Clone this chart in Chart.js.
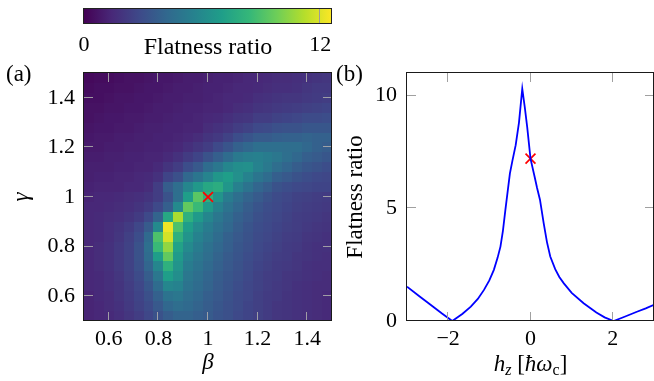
<!DOCTYPE html>
<html><head><meta charset="utf-8">
<script src="https://cdn.jsdelivr.net/npm/chart.js@4.4.1/dist/chart.umd.min.js"></script>
<style>
html,body{margin:0;padding:0;background:#fff;}
#wrap{position:relative;width:654px;height:381px;overflow:hidden;background:#fff;}
#wrap canvas{position:absolute;left:0;top:0;}
</style></head><body>
<div id="wrap">
<canvas id="cb" width="654" height="381"></canvas>
<canvas id="hm" width="654" height="381"></canvas>
<canvas id="ln" width="654" height="381"></canvas>
</div>
<script>
// ---------------- data ----------------
const betaValues = [0.52,0.56,0.60,0.64,0.68,0.72,0.76,0.80,0.84,0.88,0.92,0.96,1.00,1.04,1.08,1.12,1.16,1.20,1.24,1.28,1.32,1.36,1.40,1.44,1.48];
const gammaValues = [1.48,1.44,1.40,1.36,1.32,1.28,1.24,1.20,1.16,1.12,1.08,1.04,1.00,0.96,0.92,0.88,0.84,0.80,0.76,0.72,0.68,0.64,0.60,0.56,0.52];
const flatnessGrid = [
[0.3,0.4,0.4,0.5,0.6,0.6,0.7,0.8,0.8,0.9,1.0,1.0,1.1,1.2,1.2,1.3,1.4,1.4,1.5,1.6,1.6,1.7,1.8,1.9,2.0],
[0.4,0.5,0.5,0.6,0.6,0.7,0.8,0.8,0.9,1.0,1.0,1.1,1.2,1.2,1.3,1.4,1.4,1.5,1.6,1.7,1.7,1.8,2.0,2.1,2.1],
[0.5,0.5,0.6,0.7,0.7,0.8,0.8,0.9,1.0,1.0,1.1,1.1,1.2,1.3,1.4,1.4,1.5,1.7,1.8,1.9,2.0,2.0,2.1,2.2,2.3],
[0.6,0.6,0.7,0.7,0.8,0.8,0.9,1.0,1.0,1.1,1.2,1.2,1.3,1.3,1.4,1.6,1.7,1.9,2.0,2.1,2.2,2.3,2.4,2.5,2.6],
[0.6,0.7,0.8,0.8,0.9,0.9,1.0,1.0,1.1,1.2,1.2,1.3,1.4,1.5,1.7,1.9,2.0,2.3,2.3,2.5,2.6,2.7,2.9,2.9,3.0],
[0.7,0.8,0.8,0.9,0.9,1.0,1.1,1.1,1.2,1.2,1.3,1.3,1.6,1.8,2.0,2.3,2.5,2.8,2.9,3.1,3.2,3.2,3.4,3.4,3.4],
[0.8,0.9,0.9,1.0,1.0,1.1,1.1,1.2,1.2,1.3,1.4,1.6,1.9,2.1,2.5,3.0,3.3,3.6,3.6,3.8,3.9,3.9,4.0,3.9,3.9],
[0.9,0.9,1.0,1.0,1.1,1.1,1.2,1.2,1.3,1.4,1.7,2.0,2.3,2.8,3.3,3.9,4.2,4.6,4.6,4.6,4.5,4.5,4.2,3.9,3.7],
[1.0,1.0,1.1,1.1,1.2,1.2,1.3,1.3,1.5,1.8,2.2,2.6,3.2,3.8,4.4,5.1,5.4,5.5,5.3,5.0,4.6,4.2,3.8,3.6,3.4],
[1.1,1.1,1.1,1.2,1.2,1.3,1.3,1.5,1.9,2.3,3.0,3.5,4.4,5.0,5.8,6.2,6.3,5.6,5.1,4.5,4.1,3.7,3.4,3.2,3.0],
[1.1,1.2,1.2,1.3,1.3,1.4,1.5,1.8,2.6,3.1,4.2,4.9,5.7,6.6,7.0,6.3,5.6,4.9,4.4,3.8,3.5,3.2,3.0,2.8,2.7],
[1.2,1.3,1.3,1.3,1.4,1.4,1.6,2.3,3.7,4.5,5.8,6.7,7.5,7.8,6.6,5.5,4.8,4.1,3.7,3.2,3.0,2.8,2.7,2.6,2.6],
[1.3,1.4,1.4,1.5,1.6,1.7,1.9,2.3,3.2,4.6,7.0,9.3,8.0,6.5,5.3,4.6,4.0,3.6,3.2,2.9,2.7,2.5,2.4,2.3,2.2],
[1.4,1.4,1.5,1.6,1.7,1.9,2.2,2.8,3.8,6.0,9.5,8.5,6.8,5.6,4.8,4.2,3.7,3.3,3.0,2.8,2.6,2.4,2.3,2.2,2.1],
[1.4,1.5,1.6,1.7,1.9,2.2,2.8,4.0,7.5,11.0,8.0,6.8,5.8,5.0,4.4,3.9,3.5,3.1,2.9,2.7,2.5,2.3,2.2,2.1,2.0],
[1.4,1.5,1.7,1.9,2.2,2.7,3.6,6.0,12.3,9.0,7.0,6.0,5.3,4.7,4.2,3.7,3.3,3.0,2.8,2.6,2.4,2.3,2.1,2.0,1.9],
[1.4,1.5,1.7,2.0,2.4,3.0,4.3,9.0,11.8,8.0,6.5,5.6,5.0,4.4,3.9,3.5,3.2,2.9,2.7,2.5,2.3,2.2,2.0,1.9,1.8],
[1.4,1.6,1.8,2.1,2.5,3.2,4.6,8.5,10.5,7.2,6.0,5.3,4.7,4.2,3.8,3.4,3.1,2.8,2.6,2.4,2.2,2.1,1.9,1.8,1.8],
[1.4,1.6,1.8,2.1,2.5,3.2,4.4,7.0,9.5,6.8,5.6,5.0,4.5,4.0,3.6,3.3,3.0,2.7,2.5,2.3,2.2,2.0,1.9,1.8,1.7],
[1.4,1.6,1.8,2.1,2.5,3.1,4.1,5.8,8.0,6.5,5.3,4.8,4.3,3.9,3.5,3.2,2.9,2.6,2.4,2.2,2.1,2.0,1.8,1.7,1.7],
[1.4,1.5,1.7,2.0,2.4,2.9,3.7,5.0,7.0,6.2,5.0,4.6,4.1,3.7,3.4,3.1,2.8,2.5,2.3,2.2,2.0,1.9,1.8,1.7,1.6],
[1.4,1.5,1.7,1.9,2.3,2.7,3.4,4.4,5.8,5.6,4.8,4.4,4.0,3.6,3.3,3.0,2.7,2.5,2.3,2.1,2.0,1.8,1.7,1.6,1.6],
[1.3,1.5,1.6,1.9,2.2,2.6,3.1,3.9,4.8,5.0,4.5,4.2,3.8,3.5,3.2,2.9,2.7,2.4,2.2,2.1,1.9,1.8,1.7,1.6,1.5],
[1.3,1.4,1.6,1.8,2.1,2.5,2.9,3.5,4.2,4.5,4.3,4.0,3.7,3.4,3.1,2.9,2.6,2.4,2.2,2.0,1.9,1.8,1.7,1.6,1.5],
[1.3,1.4,1.5,1.7,2.0,2.3,2.7,3.2,3.7,4.0,4.0,3.8,3.6,3.3,3.1,2.8,2.6,2.4,2.2,2.0,1.9,1.8,1.7,1.6,1.5]
];
const betaTicks = [0.6, 0.8, 1, 1.2, 1.4];
const gammaTicks = [0.6, 0.8, 1, 1.2, 1.4];
const markerBeta = [1];
const markerGamma = [1];
const colorbarTicks = [0, 12];
const colorbarMax = 12.6;

const hzValues = [-3.0,-2.7,-2.42,-2.15,-1.9,-1.65,-1.45,-1.28,-1.13,-1.0,-0.89,-0.8,-0.73,-0.67,-0.61,-0.55,-0.5,-0.44,-0.36,-0.28,-0.2,-0.14,-0.08,0.0,0.1,0.16,0.23,0.32,0.4,0.48,0.6,0.7,0.81,1.0,1.29,1.6,1.8,2.02,2.3,2.6,2.8,3.0];
const flatnessLine = [1.52,1.1,0.71,0.33,0.0,0.32,0.64,0.98,1.38,1.8,2.27,2.8,3.3,4.0,4.93,5.82,6.55,7.1,7.8,8.8,10.3,9.5,8.6,7.2,6.4,5.9,5.38,4.34,3.5,2.86,2.3,1.95,1.67,1.25,0.79,0.38,0.16,0.0,0.2,0.42,0.56,0.72];
const hzTicks = [-2, 0, 2];
const flatTicks = [0, 5, 10];
const markerHz = [0];
const markerFlat = [7.2];

// ---------------- helpers ----------------
const FONT = "'Liberation Serif', 'DejaVu Serif', serif";
const VIRIDIS = ['#440154','#482878','#3e4989','#31688e','#26828e','#1f9e89','#35b779','#6ece58','#b5de2b','#fde725'];
const VRGB = VIRIDIS.map(h => [parseInt(h.slice(1,3),16), parseInt(h.slice(3,5),16), parseInt(h.slice(5,7),16)]);
function viridis(t) {
  t = Math.max(0, Math.min(1, t));
  const s = t * (VRGB.length - 1);
  const i = Math.min(VRGB.length - 2, Math.floor(s));
  const f = s - i;
  const a = VRGB[i], b = VRGB[i + 1];
  return 'rgb(' + [0,1,2].map(k => Math.round(a[k] + (b[k] - a[k]) * f)).join(',') + ')';
}
const fmtNum = v => { const s = String(Number(v.toFixed(3))); return v < 0 ? '\u2212' + s.slice(1) : s; };
const fixTicks = arr => scale => { scale.ticks = arr.map(v => ({ value: v })); };

const framePlugin = {
  id: 'frame',
  afterDatasetsDraw(chart, args, opts) {
    const { ctx, chartArea: a, scales: { x, y } } = chart;
    const L = Math.round(a.left), R = Math.round(a.right), T = Math.round(a.top), B = Math.round(a.bottom);
    ctx.save();
    ctx.strokeStyle = opts.tickColor; ctx.lineWidth = 1;
    ctx.beginPath();
    const len = 9;
    (opts.xTicks || []).forEach(v => {
      const px = Math.round(x.getPixelForValue(v)) - 0.5;
      ctx.moveTo(px, B); ctx.lineTo(px, B - len);
      ctx.moveTo(px, T); ctx.lineTo(px, T + len);
    });
    (opts.yTicks || []).forEach(v => {
      const py = Math.round(y.getPixelForValue(v)) - 0.5;
      ctx.moveTo(L, py); ctx.lineTo(L + len, py);
      ctx.moveTo(R, py); ctx.lineTo(R - len, py);
    });
    ctx.stroke();
    ctx.strokeStyle = opts.frameColor; ctx.lineWidth = 1;
    ctx.strokeRect(L - 0.5, T - 0.5, R - L, B - T);
    ctx.restore();
  }
};

// ---------------- colorbar ----------------
const cbarPlugin = {
  id: 'cbar',
  beforeDatasetsDraw(chart) {
    const { ctx, chartArea: a, scales: { x } } = chart;
    const x0 = x.getPixelForValue(0), x1 = x.getPixelForValue(colorbarMax);
    const g = ctx.createLinearGradient(x0, 0, x1, 0);
    VIRIDIS.forEach((c, i) => g.addColorStop(i / (VIRIDIS.length - 1), c));
    ctx.save();
    ctx.fillStyle = g;
    ctx.fillRect(a.left, a.top, a.right - a.left, a.bottom - a.top);
    ctx.strokeStyle = '#9a9a9a'; ctx.lineWidth = 1;
    ctx.beginPath();
    colorbarTicks.forEach(v => {
      const px = Math.round(x.getPixelForValue(v)) - 0.5;
      ctx.moveTo(px, a.top); ctx.lineTo(px, a.bottom);
    });
    ctx.stroke();
    ctx.strokeStyle = '#222'; 
    ctx.strokeRect(Math.round(a.left) - 0.5, Math.round(a.top) - 0.5, Math.round(a.right) - Math.round(a.left), Math.round(a.bottom) - Math.round(a.top));
    ctx.restore();
  }
};
new Chart(document.getElementById('cb'), {
  type: 'scatter',
  data: { datasets: [] },
  options: {
    responsive: false, animation: false, devicePixelRatio: 1,
    layout: { autoPadding: false, padding: { left: 84, right: 322, top: 9, bottom: 319 } },
    plugins: { legend: { display: false }, tooltip: { enabled: false } },
    scales: {
      x: {
        type: 'linear', min: 0, max: colorbarMax,
        afterBuildTicks: fixTicks(colorbarTicks),
        grid: { display: false, drawTicks: false }, border: { display: false },
        ticks: { padding: 8, color: '#000', font: { family: FONT, size: 22 }, maxRotation: 0, autoSkip: false, callback: v => fmtNum(v) },
        title: { display: true, text: 'Flatness ratio', color: '#000', font: { family: FONT, size: 24 }, padding: { top: 0, bottom: 0 } },
        afterFit: s => { s.height = 38; }
      },
      y: { display: false, min: 0, max: 1 }
    }
  },
  plugins: [cbarPlugin]
});

// ---------------- heatmap ----------------
const cells = [];
gammaValues.forEach((g, r) => betaValues.forEach((b, c) => cells.push({ x: b, y: g, v: flatnessGrid[r][c] })));
const halfW = (betaValues[1] - betaValues[0]) / 2;
const halfH = Math.abs(gammaValues[0] - gammaValues[1]) / 2;

const heatPlugin = {
  id: 'heat',
  beforeDatasetsDraw(chart) {
    const { ctx, scales: { x, y } } = chart;
    ctx.save();
    chart.data.datasets[0].data.forEach(p => {
      const xa = Math.round(x.getPixelForValue(p.x - halfW));
      const xb = Math.round(x.getPixelForValue(p.x + halfW));
      const ya = Math.round(y.getPixelForValue(p.y + halfH));
      const yb = Math.round(y.getPixelForValue(p.y - halfH));
      ctx.fillStyle = viridis(p.v / colorbarMax);
      ctx.fillRect(xa, ya, xb - xa, yb - ya);
    });
    ctx.restore();
  },
  afterDraw(chart) {
    const ctx = chart.ctx;
    ctx.save();
    ctx.fillStyle = '#000';
    ctx.font = '23px ' + FONT;
    ctx.textBaseline = 'alphabetic';
    ctx.textAlign = 'left';
    ctx.fillText('(a)', 6, 81);
    ctx.fillText('(b)', 336, 81);
    ctx.restore();
  }
};

new Chart(document.getElementById('hm'), {
  type: 'scatter',
  data: {
    datasets: [
      { data: cells, pointRadius: 0, pointHoverRadius: 0 },
      { data: markerBeta.map((b, i) => ({ x: b, y: markerGamma[i] })), pointStyle: 'crossRot', pointRadius: 7, pointHoverRadius: 7,
        pointBorderColor: '#ff0000', pointBackgroundColor: '#ff0000', pointBorderWidth: 1.7 }
    ]
  },
  options: {
    responsive: false, animation: false, devicePixelRatio: 1,
    layout: { autoPadding: false, padding: { left: 0, right: 322, top: 73, bottom: 0 } },
    plugins: { legend: { display: false }, tooltip: { enabled: false },
      frame: { xTicks: betaTicks, yTicks: gammaTicks, tickColor: 'rgba(170,170,170,0.9)', frameColor: '#1a1a1a' } },
    scales: {
      x: {
        type: 'linear', min: 0.5, max: 1.5,
        afterBuildTicks: fixTicks(betaTicks),
        grid: { display: false, drawTicks: false }, border: { display: false },
        ticks: { padding: 5, color: '#000', font: { family: FONT, size: 22 }, maxRotation: 0, autoSkip: false, callback: v => fmtNum(v) },
        title: { display: true, text: 'β', color: '#000', font: { family: FONT, size: 23, style: 'italic' }, padding: { top: 0, bottom: 4 } },
        afterFit: s => { s.height = 60; }
      },
      y: {
        type: 'linear', min: 0.5, max: 1.5,
        afterBuildTicks: fixTicks(gammaTicks),
        grid: { display: false, drawTicks: false }, border: { display: false },
        ticks: { padding: 9, color: '#000', font: { family: FONT, size: 22 }, autoSkip: false, callback: v => fmtNum(v) },
        title: { display: true, text: 'γ', color: '#000', font: { family: FONT, size: 23, style: 'italic' }, padding: { top: 8, bottom: 0 } },
        afterFit: s => { s.width = 84; }
      }
    }
  },
  plugins: [heatPlugin, framePlugin]
});

// ---------------- line chart ----------------
const hzTitlePlugin = {
  id: 'hztitle',
  afterDraw(chart) {
    const { ctx, chartArea: a } = chart;
    const parts = [
      { t: 'h', f: 'italic 23px ' + FONT, dy: 0 },
      { t: 'z', f: 'italic 16px ' + FONT, dy: 4 },
      { t: ' [', f: '23px ' + FONT, dy: 0 },
      { t: 'ħ', f: 'italic 23px ' + FONT, dy: 0 },
      { t: 'ω', f: 'italic 23px ' + FONT, dy: 0 },
      { t: 'c', f: '16px ' + FONT, dy: 4 },
      { t: ']', f: '23px ' + FONT, dy: 0 }
    ];
    ctx.save();
    ctx.fillStyle = '#000';
    ctx.textBaseline = 'alphabetic';
    ctx.textAlign = 'left';
    let total = 0;
    parts.forEach(p => { ctx.font = p.f; p.w = ctx.measureText(p.t).width; total += p.w; });
    let xx = (a.left + a.right) / 2 - total / 2;
    const base = 371;
    parts.forEach(p => { ctx.font = p.f; ctx.fillText(p.t, xx, base + p.dy); xx += p.w; });
    ctx.restore();
  }
};

new Chart(document.getElementById('ln'), {
  type: 'scatter',
  data: {
    datasets: [
      { data: hzValues.map((h, i) => ({ x: h, y: flatnessLine[i] })), showLine: true, borderColor: '#0000ff', borderWidth: 1.8,
        pointRadius: 0, pointHoverRadius: 0, tension: 0, fill: false },
      { data: markerHz.map((h, i) => ({ x: h, y: markerFlat[i] })), pointStyle: 'crossRot', pointRadius: 7, pointHoverRadius: 7,
        pointBorderColor: '#ff0000', pointBackgroundColor: '#ff0000', pointBorderWidth: 1.7 }
    ]
  },
  options: {
    responsive: false, animation: false, devicePixelRatio: 1,
    layout: { autoPadding: false, padding: { left: 335, right: 0, top: 73, bottom: 0 } },
    plugins: { legend: { display: false }, tooltip: { enabled: false },
      frame: { xTicks: hzTicks, yTicks: flatTicks, tickColor: '#a0a0a0', frameColor: '#1a1a1a' } },
    scales: {
      x: {
        type: 'linear', min: -3, max: 3,
        afterBuildTicks: fixTicks(hzTicks),
        grid: { display: false, drawTicks: false }, border: { display: false },
        ticks: { padding: 5, color: '#000', font: { family: FONT, size: 22 }, maxRotation: 0, autoSkip: false, callback: v => fmtNum(v) },
        title: { display: false },
        afterFit: s => { s.height = 60; }
      },
      y: {
        type: 'linear', min: 0, max: 11,
        afterBuildTicks: fixTicks(flatTicks),
        grid: { display: false, drawTicks: false }, border: { display: false },
        ticks: { padding: 10, color: '#000', font: { family: FONT, size: 22 }, autoSkip: false, callback: v => fmtNum(v) },
        title: { display: true, text: 'Flatness ratio', color: '#000', font: { family: FONT, size: 23 }, padding: { top: 7, bottom: 0 } },
        afterFit: s => { s.width = 72; }
      }
    }
  },
  plugins: [framePlugin, hzTitlePlugin]
});
</script>
</body></html>
